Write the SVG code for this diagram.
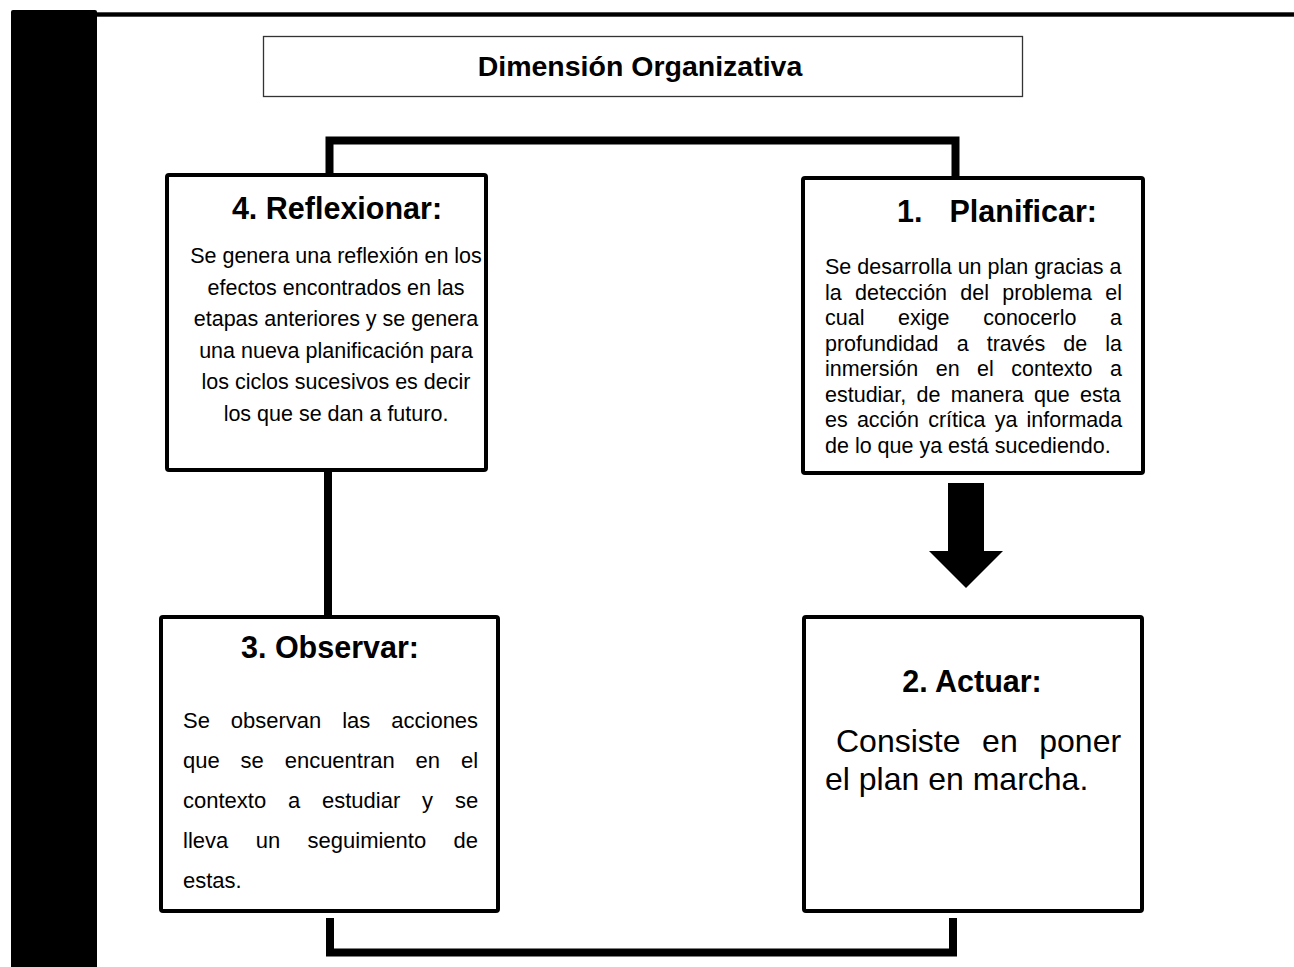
<svg xmlns="http://www.w3.org/2000/svg" width="1294" height="967" viewBox="0 0 1294 967">
<style>
.box{fill:#fff;stroke:#000;stroke-width:4;}
.conn{fill:none;stroke:#000;stroke-width:8;stroke-linejoin:miter;}
.t{font-family:"Liberation Sans",Arial,sans-serif;fill:#000;}
.h{font-weight:bold;font-size:30.5px;}
.b{font-size:21.5px;}
.b3{font-size:22px;}
.b2{font-size:32px;}
</style>
<rect x="0" y="0" width="1294" height="967" fill="#fff"/>
<g id="frame">
<path d="M11,967 V12 Q11,10 13,10 H95 Q97,10 97,12 V967 Z" fill="#000"/>
<rect x="97" y="12.3" width="1197" height="4.4" fill="#000"/>
</g>
<g id="connectors">
<path class="conn" d="M329.5,173 V140.5 H955.5 V176"/>
<path class="conn" d="M328,472 V615"/>
<path class="conn" d="M330,918 V952.5 H953 V918"/>
<polygon points="948,483 984,483 984,551 1003,551 966,588 929,551 948,551" fill="#000"/>
</g>
<g id="title">
<rect x="263.5" y="36.5" width="759" height="60" fill="#fff" stroke="#333" stroke-width="1.3"/>
<text class="t" x="640" y="76" text-anchor="middle" font-weight="bold" font-size="28.5">Dimensión Organizativa</text>
</g>
<g id="node4">
<rect class="box" x="167" y="175" width="319" height="295" rx="2"/>
<text class="t h" x="337" y="219" text-anchor="middle">4. Reflexionar:</text>
<g class="t b" text-anchor="middle">
<text x="336" y="263">Se genera una reflexión en los</text>
<text x="336" y="295">efectos encontrados en las</text>
<text x="336" y="326">etapas anteriores y se genera</text>
<text x="336" y="358">una nueva planificación para</text>
<text x="336" y="389">los ciclos sucesivos es decir</text>
<text x="336" y="421">los que se dan a futuro.</text>
</g>
</g>
<g id="node1">
<rect class="box" x="803" y="178" width="340" height="295" rx="2"/>
<text class="t h" y="222"><tspan x="897">1.</tspan><tspan x="949.5">Planificar:</tspan></text>
<g class="t b">
<text x="825" y="274">Se desarrolla un plan gracias a</text>
<text x="825" y="299.5" style="word-spacing:7.3px">la detección del problema el</text>
<text x="825" y="325" style="word-spacing:27.7px">cual exige conocerlo a</text>
<text x="825" y="350.5" style="word-spacing:12.1px">profundidad a través de la</text>
<text x="825" y="376" style="word-spacing:11.5px">inmersión en el contexto a</text>
<text x="825" y="401.5" style="word-spacing:4.3px">estudiar, de manera que esta</text>
<text x="825" y="427" style="word-spacing:3.2px">es acción crítica ya informada</text>
<text x="825" y="452.5">de lo que ya está sucediendo.</text>
</g>
</g>
<g id="node3">
<rect class="box" x="161" y="617" width="337" height="294" rx="2"/>
<text class="t h" x="330" y="658" text-anchor="middle">3. Observar:</text>
<g class="t b3">
<text x="183" y="728" style="word-spacing:14.8px">Se observan las acciones</text>
<text x="183" y="768" style="word-spacing:14.75px">que se encuentran en el</text>
<text x="183" y="808" style="word-spacing:15.7px">contexto a estudiar y se</text>
<text x="183" y="848" style="word-spacing:21.3px">lleva un seguimiento de</text>
<text x="183" y="888">estas.</text>
</g>
</g>
<g id="node2">
<rect class="box" x="804" y="617" width="338" height="294" rx="2"/>
<text class="t h" x="972" y="692" text-anchor="middle">2. Actuar:</text>
<g class="t b2">
<text x="836" y="752" style="word-spacing:12.7px">Consiste en poner</text>
<text x="825" y="790">el plan en marcha.</text>
</g>
</g>
</svg>
